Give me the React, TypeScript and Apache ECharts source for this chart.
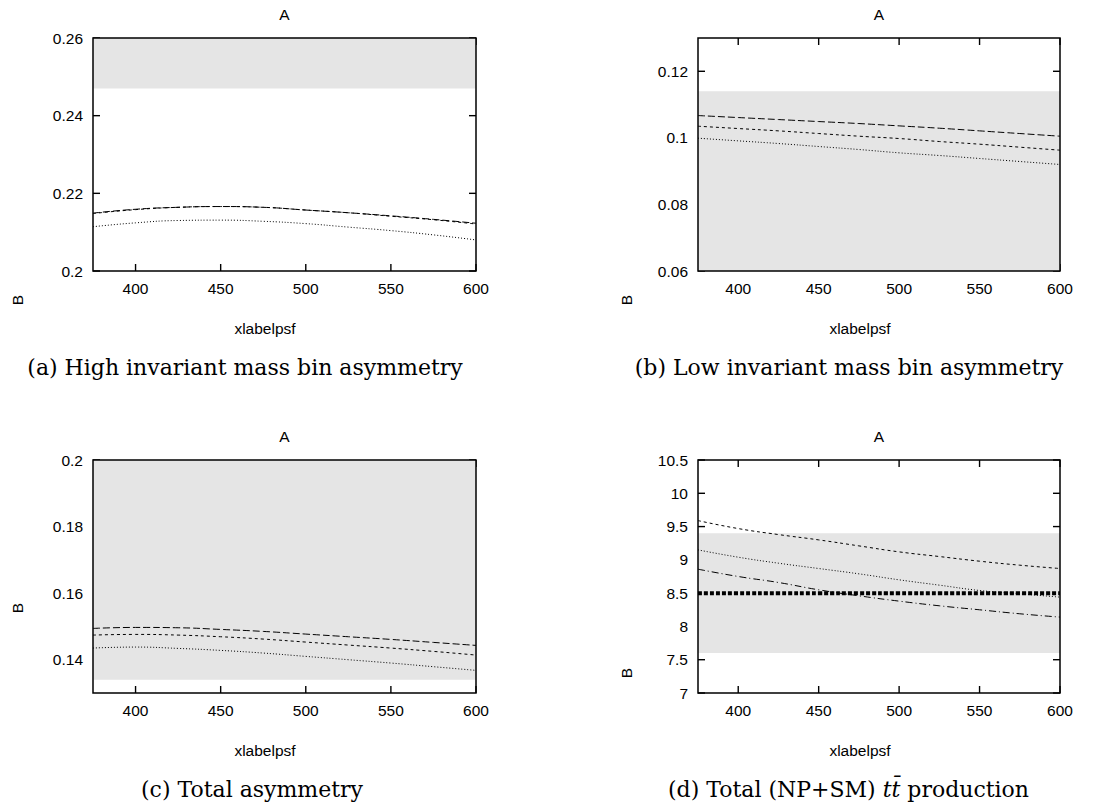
import React, { useEffect, useRef } from 'react';
import * as echarts from 'echarts';

// shared x positions (GeV) and tick labels
const xValues = [375, 400, 425, 450, 475, 500, 525, 550, 575, 600];
const xTicks = [400, 450, 500, 550, 600];
const xRange = [375, 600];

// (a) High invariant mass bin asymmetry
const aLongDash = [0.2149, 0.2159, 0.2164, 0.2166, 0.2164, 0.2157, 0.2150, 0.2142, 0.2133, 0.2123];
const aShortDash = [0.2148, 0.2158, 0.2164, 0.2166, 0.2164, 0.2157, 0.2150, 0.2141, 0.2132, 0.2121];
const aDotted = [0.2114, 0.2124, 0.2130, 0.2131, 0.2128, 0.2122, 0.2113, 0.2104, 0.2093, 0.2080];
const aBand = [0.247, 0.26];
const aYTicks = [0.2, 0.22, 0.24, 0.26];

// (b) Low invariant mass bin asymmetry
const bLongDash = [0.1067, 0.1061, 0.1055, 0.1049, 0.1043, 0.1036, 0.1029, 0.1021, 0.1013, 0.1005];
const bShortDash = [0.1035, 0.1028, 0.1021, 0.1013, 0.1005, 0.0998, 0.0989, 0.0981, 0.0972, 0.0963];
const bDotted = [0.0999, 0.0991, 0.0983, 0.0974, 0.0965, 0.0955, 0.0947, 0.0938, 0.0929, 0.0920];
const bBand = [0.06, 0.114];
const bYTicks = [0.06, 0.08, 0.1, 0.12];

// (c) Total asymmetry
const cLongDash = [0.1494, 0.1497, 0.1496, 0.1491, 0.1485, 0.1477, 0.1469, 0.1461, 0.1452, 0.1443];
const cShortDash = [0.1474, 0.1476, 0.1474, 0.1469, 0.1462, 0.1453, 0.1444, 0.1435, 0.1425, 0.1414];
const cDotted = [0.1435, 0.1438, 0.1434, 0.1428, 0.1420, 0.1410, 0.1400, 0.1390, 0.1379, 0.1368];
const cBand = [0.134, 0.2];
const cYTicks = [0.14, 0.16, 0.18, 0.2];

// (d) Total (NP+SM) ttbar production
const dShortDash = [9.59, 9.47, 9.38, 9.30, 9.21, 9.12, 9.05, 8.98, 8.92, 8.87];
const dDotted = [9.15, 9.04, 8.95, 8.87, 8.79, 8.70, 8.62, 8.54, 8.49, 8.44];
const dDashDot = [8.86, 8.75, 8.66, 8.55, 8.46, 8.38, 8.31, 8.25, 8.19, 8.14];
const dSM = [8.5, 8.5, 8.5, 8.5, 8.5, 8.5, 8.5, 8.5, 8.5, 8.5];
const dBand = [7.6, 9.4];
const dYTicks = [7, 7.5, 8, 8.5, 9, 9.5, 10, 10.5];

const captions = [
  '(a) High invariant mass bin asymmetry',
  '(b) Low invariant mass bin asymmetry',
  '(c) Total asymmetry',
];

const LONG = [7, 3];
const SHORT = [3, 3];
const DOT = [1, 2];
const DASHDOT = [7, 3, 1, 3];

const SANS = 'Liberation Sans, Arial, Helvetica, sans-serif';
const SERIF = 'DejaVu Serif, serif';
const FS = 15.5;
const TICK_LEN = 7;
const TICK_W = 1.4;

type LineDef = { data: number[]; dash: number[]; width?: number };

const panels = [
  {
    grid: { left: 93, top: 38, width: 383, height: 233 },
    yMin: 0.2, yMax: 0.26, yTicks: aYTicks, band: aBand,
    lines: [
      { data: aLongDash, dash: LONG },
      { data: aShortDash, dash: SHORT },
      { data: aDotted, dash: DOT },
    ] as LineDef[],
    titlePos: [284.5, 14], xlabPos: [265, 328], bPos: [17, 300], capPos: [245, 367],
  },
  {
    grid: { left: 698, top: 38, width: 362, height: 233 },
    yMin: 0.06, yMax: 0.13, yTicks: bYTicks, band: bBand,
    lines: [
      { data: bLongDash, dash: LONG },
      { data: bShortDash, dash: SHORT },
      { data: bDotted, dash: DOT },
    ] as LineDef[],
    titlePos: [879, 14], xlabPos: [860, 328], bPos: [626, 300], capPos: [849, 367],
  },
  {
    grid: { left: 93, top: 460, width: 383, height: 233 },
    yMin: 0.13, yMax: 0.2, yTicks: cYTicks, band: cBand,
    lines: [
      { data: cLongDash, dash: LONG },
      { data: cShortDash, dash: SHORT },
      { data: cDotted, dash: DOT },
    ] as LineDef[],
    titlePos: [284.5, 436], xlabPos: [265, 750], bPos: [17, 608], capPos: [252, 789],
  },
  {
    grid: { left: 698, top: 460, width: 362, height: 233 },
    yMin: 7, yMax: 10.5, yTicks: dYTicks, band: dBand,
    lines: [
      { data: dSM, dash: [4, 2], width: 4 },
      { data: dShortDash, dash: SHORT },
      { data: dDotted, dash: DOT },
      { data: dDashDot, dash: DASHDOT },
    ] as LineDef[],
    titlePos: [879, 436], xlabPos: [860, 750], bPos: [626, 673], capPos: [848.5, 789],
  },
];

function tickSeries(i: number, data: number[][], vertical: boolean, offset: number[]) {
  return {
    type: 'scatter', xAxisIndex: i, yAxisIndex: i, z: 3, silent: true, clip: false,
    symbol: 'rect',
    symbolSize: vertical ? [TICK_W, TICK_LEN] : [TICK_LEN, TICK_W],
    symbolOffset: offset,
    itemStyle: { color: '#000', opacity: 1 },
    emphasis: { disabled: true },
    data,
  };
}

function buildOption() {
  const grid: any[] = [];
  const xAxis: any[] = [];
  const yAxis: any[] = [];
  const series: any[] = [];
  const graphic: any[] = [];

  panels.forEach((p, i) => {
    grid.push({
      ...p.grid,
      show: true,
      borderColor: '#000',
      borderWidth: 1.5,
      backgroundColor: 'rgba(0,0,0,0)',
      z: 8,
    });
    xAxis.push({
      type: 'value', gridIndex: i, min: xRange[0], max: xRange[1], position: 'bottom',
      axisLine: { show: false }, splitLine: { show: false }, axisTick: { show: false },
      axisLabel: { customValues: xTicks, margin: 9, color: '#000', fontSize: FS, fontFamily: SANS },
    });
    yAxis.push({
      type: 'value', gridIndex: i, min: p.yMin, max: p.yMax, position: 'left',
      axisLine: { show: false }, splitLine: { show: false }, axisTick: { show: false },
      axisLabel: { customValues: p.yTicks, margin: 10, color: '#000', fontSize: FS, fontFamily: SANS,
        formatter: (v: number) => String(v) },
    });

    // inward tick marks on all four sides (mirrored), placed through the axis scales
    const half = TICK_LEN / 2;
    series.push(tickSeries(i, xTicks.map((v) => [v, p.yMin]), true, [0, -half]));
    series.push(tickSeries(i, xTicks.map((v) => [v, p.yMax]), true, [0, half]));
    series.push(tickSeries(i, p.yTicks.map((v) => [xRange[0], v]), false, [half, 0]));
    series.push(tickSeries(i, p.yTicks.map((v) => [xRange[1], v]), false, [-half, 0]));

    // band (experimental range), drawn over the ticks
    series.push({
      type: 'line', xAxisIndex: i, yAxisIndex: i, data: [], z: 4, silent: true,
      markArea: {
        silent: true,
        z: 4,
        itemStyle: { color: '#e5e5e5', borderWidth: 0 },
        data: [[{ yAxis: p.band[0] }, { yAxis: p.band[1] }]],
      },
    });

    p.lines.forEach((l) => {
      series.push({
        type: 'line', xAxisIndex: i, yAxisIndex: i, z: 6, silent: true,
        showSymbol: false, symbol: 'none', smooth: true,
        lineStyle: { color: '#000', width: l.width ?? 1, type: l.dash },
        data: xValues.map((x, k) => [x, l.data[k]]),
      });
    });

    graphic.push({
      type: 'text', x: p.titlePos[0], y: p.titlePos[1],
      style: { text: 'A', font: `${FS}px ${SANS}`, fill: '#000', textAlign: 'center', textVerticalAlign: 'middle' },
    });
    graphic.push({
      type: 'text', x: p.xlabPos[0], y: p.xlabPos[1],
      style: { text: 'xlabelpsf', font: `${FS}px ${SANS}`, fill: '#000', textAlign: 'center', textVerticalAlign: 'middle' },
    });
    graphic.push({
      type: 'text', x: p.bPos[0], y: p.bPos[1], rotation: Math.PI / 2,
      style: { text: 'B', font: `${FS}px ${SANS}`, fill: '#000', textAlign: 'center', textVerticalAlign: 'middle' },
    });
    if (i < 3) {
      graphic.push({
        type: 'text', x: p.capPos[0], y: p.capPos[1],
        style: { text: captions[i], font: `22px ${SERIF}`, fill: '#000', textAlign: 'center', textVerticalAlign: 'middle' },
      });
    } else {
      graphic.push({
        type: 'text', x: p.capPos[0], y: p.capPos[1],
        style: {
          text: '{r|(d) Total (NP+SM) }{i|tt\u0304}{r| production}',
          textAlign: 'center', textVerticalAlign: 'middle',
          rich: {
            r: { font: `22px ${SERIF}`, fill: '#000', color: '#000' },
            i: { font: `italic 22px ${SERIF}`, fill: '#000', color: '#000' },
          },
        },
      });
    }
  });

  return {
    animation: false,
    backgroundColor: '#fff',
    grid, xAxis, yAxis, series, graphic,
  };
}

export default function App() {
  const ref = useRef<HTMLDivElement>(null);
  useEffect(() => {
    if (!ref.current) return;
    const chart = echarts.init(ref.current, undefined, { renderer: 'svg' });
    chart.setOption(buildOption() as any);
    return () => chart.dispose();
  }, []);
  return (
    <div
      ref={ref}
      style={{ position: 'absolute', left: 0, top: 0, width: 1112, height: 805, background: '#fff' }}
    />
  );
}
